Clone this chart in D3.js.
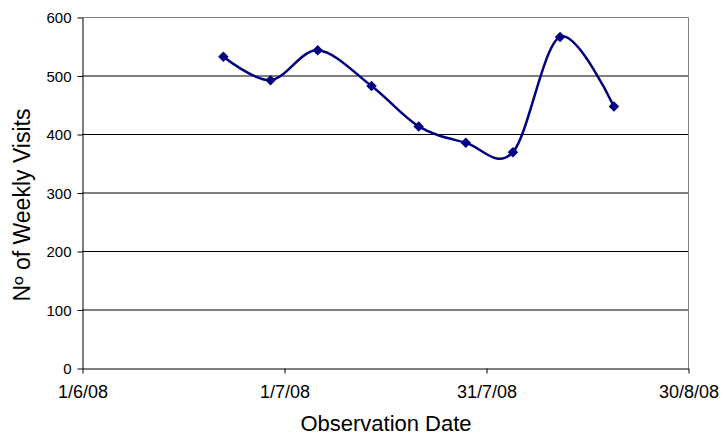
<!DOCTYPE html>
<html><head><meta charset="utf-8">
<script src="https://cdn.jsdelivr.net/npm/d3@7"></script>
<style>
html,body{margin:0;padding:0;background:#fff;}
svg text{font-family:"Liberation Sans",Arial,sans-serif;fill:#000;}
</style></head>
<body><svg id="c" width="723" height="438"></svg>
<script>
const dates = ["2008-06-22","2008-06-29","2008-07-06","2008-07-14","2008-07-21","2008-07-28","2008-08-04","2008-08-11","2008-08-19"];
const visits = [532, 492, 543, 482, 413, 385, 369, 566, 447];
const xTickDates = ["2008-06-01","2008-07-01","2008-07-31","2008-08-30"];
const xTickLabels = ["1/6/08","1/7/08","31/7/08","30/8/08"];
const yTicks = [0,100,200,300,400,500,600];

const svg = d3.select("#c");
const L = 82, R = 688, T = 17, B = 368;
const parse = d3.utcParse("%Y-%m-%d");
const x = d3.scaleUtc().domain([parse(xTickDates[0]), parse(xTickDates[3])]).range([L, R]);
const y = d3.scaleLinear().domain([0, 600]).range([B, T]);

// gridlines
svg.append("g").selectAll("line").data(yTicks.filter(v => v > 0 && v < 600)).join("line")
  .attr("x1", L).attr("x2", R).attr("y1", d => y(d) + 0.5).attr("y2", d => y(d) + 0.5)
  .attr("stroke", "#000").attr("stroke-width", 1);
// top/right border
svg.append("path").attr("d", `M${L},${T+0.5}H${R+0.5}V${B}`).attr("fill","none").attr("stroke","#808080").attr("stroke-width",1);

// y axis
const yAxis = d3.axisLeft(y).tickValues(yTicks).tickSize(5).tickSizeOuter(0).tickFormat(d3.format("d"));
const gy = svg.append("g").attr("transform", `translate(${L+0.5},0.5)`).call(yAxis);
gy.select(".domain").attr("stroke","#000");
gy.selectAll(".tick line").attr("stroke","#000");
gy.selectAll(".tick text").attr("x", -11).attr("dy","0.35em").style("font-size","15px").style("font-family","Liberation Sans, Arial, sans-serif");

// x axis
const xAxis = d3.axisBottom(x).tickValues(xTickDates.map(parse)).tickSize(5).tickSizeOuter(0)
  .tickFormat((d,i) => xTickLabels[i]);
const gx = svg.append("g").attr("transform", `translate(0.5,${B+0.5})`).call(xAxis);
gx.select(".domain").attr("stroke","#000");
gx.selectAll(".tick line").attr("stroke","#000");
gx.selectAll(".tick text").attr("y", 29).attr("dy","0").style("font-size","18px").style("font-family","Liberation Sans, Arial, sans-serif");

// titles
svg.append("text").attr("x", 386).attr("y", 431).attr("text-anchor","middle").style("font-size","22px").text("Observation Date");
svg.append("text").attr("transform","translate(30,205) rotate(-90)").attr("text-anchor","middle").style("font-size","23px").text("Nº of Weekly Visits");

// line
const pts = dates.map((d,i) => [x(parse(d)), y(visits[i])]);
svg.append("path").datum(pts).attr("d", d3.line().curve(d3.curveCardinal.tension(0)))
  .attr("fill","none").attr("stroke","#000080").attr("stroke-width",2.5).attr("stroke-linejoin","round");

// markers
const sym = d3.symbol(d3.symbolSquare, 55);
svg.append("g").selectAll("path").data(pts).join("path")
  .attr("d", sym).attr("transform", d => `translate(${d[0]},${d[1]}) rotate(45)`)
  .attr("fill","#000080");
</script></body></html>
